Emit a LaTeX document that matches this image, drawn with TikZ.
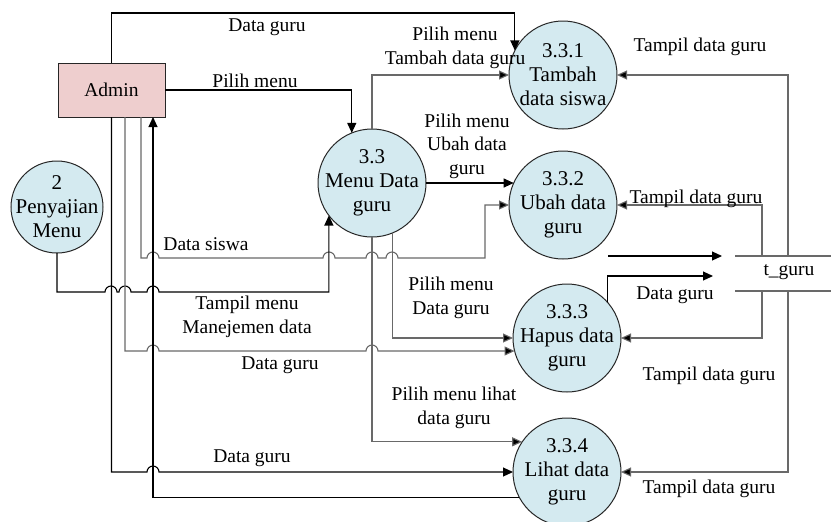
\documentclass[tikz,border=0pt]{standalone}
\usepackage{fontspec}
\setmainfont{Liberation Serif}
\usetikzlibrary{arrows.meta}
\definecolor{procfill}{RGB}{212,234,240}
\definecolor{entfill}{RGB}{238,206,206}
\definecolor{lgray}{RGB}{105,105,105}
\begin{document}
\begin{tikzpicture}[x=0.5pt,y=-0.5pt,
  proc/.style={circle,draw=black!85,line width=0.5pt,fill=procfill,minimum size=54pt,inner sep=0pt,outer sep=0pt},
  ent/.style={rectangle,draw=black!85,line width=0.5pt,fill=entfill,minimum width=53.5pt,minimum height=27pt,inner sep=0pt,outer sep=0pt},
  ptxt/.style={font=\fontsize{10.5}{12}\selectfont,align=center,inner sep=0pt},
  lbl/.style={font=\fontsize{9.75}{11.75}\selectfont,align=center,inner sep=0pt},
  flowk/.style={draw=black,line width=0.55pt,-{Triangle[length=5pt,width=4.5pt]}},
  flowg/.style={draw=lgray,line width=0.55pt,-{Triangle[length=5pt,width=4.5pt,fill=black]}},
  storeline/.style={draw=lgray,line width=0.55pt}]
\useasboundingbox (0,0) rectangle (831,521);

% nodes
\node[ent] (admin) at (111.5,90) {};
\node[lbl] at (admin) {Admin};
\node[proc,minimum size=46pt] (c2) at (57,207) {};
\node[ptxt] at (c2) {2\\Penyajian\\Menu};
\node[proc] (c33) at (372,183) {};
\node[ptxt] at (c33) {3.3\\Menu Data\\guru};
\node[proc] (c331) at (563,75) {};
\node[ptxt] at (c331) {3.3.1\\Tambah\\data siswa};
\node[proc] (c332) at (563,205) {};
\node[ptxt] at (c332) {3.3.2\\Ubah data\\guru};
\node[proc] (c333) at (567,338) {};
\node[ptxt] at (c333) {3.3.3\\Hapus data\\guru};
\node[proc] (c334) at (567,472) {};
\node[ptxt] at (c334) {3.3.4\\Lihat data\\guru};

% data store
\node[minimum width=48pt,minimum height=17.5pt,inner sep=0pt,outer sep=0pt] (store) at (783,273.5) {};
\node[lbl] at (789,272) {t\_guru};
\draw[storeline] (store.north west) -- (store.north east);
\draw[storeline] (store.south west) -- (store.south east);
\coordinate (s2a) at (608,256);
\coordinate (s2b) at (722,256);
\coordinate (s3b) at (713,276);

% flows
\draw[flowk] (admin.north) -- (111.5,13) -| (c331.153);
\draw[flowk] (admin.east) -| (c33.112);
\draw[flowg] (c33.north) |- (c331.west);
\draw[flowk] (c33.east) -- (c33.east -| c332.156);
\draw[flowg] (admin.south -| 141,0) -- (141,258) -- (147,258)
  arc[start angle=180,end angle=360,radius=6] -- (323,258)
  arc[start angle=180,end angle=360,radius=6] -- (366,258)
  arc[start angle=180,end angle=360,radius=6] -- (386,258)
  arc[start angle=180,end angle=360,radius=6] -- (485,258) |- (c332.west);
\draw[flowk] (c2.south) |- (105,292)
  arc[start angle=180,end angle=360,radius=6] -- (119,292)
  arc[start angle=180,end angle=360,radius=6] -- (147,292)
  arc[start angle=180,end angle=360,radius=6] -| (c33.217);
\draw[flowg] (admin.south -| 125,0) |- (147,351)
  arc[start angle=180,end angle=360,radius=6] -- (366,351)
  arc[start angle=180,end angle=360,radius=6] -- (378,351 -| c333.194);
\draw[flowk] (admin.south) |- (147,472)
  arc[start angle=180,end angle=360,radius=6] -- (c334.west);
\draw[flowk] (c334.208) -| (admin.south -| 153,0);
\draw[flowg] (c33.292) |- (c333.west);
\draw[flowg] (c33.south) |- (c334.146);
\draw[flowg] (store.north -| 788,0) |- (c331.east);
\draw[flowg] (store.north -| 762,0) |- (c332.east);
\draw[flowg] (store.south -| 762,0) |- (c333.east);
\draw[flowg] (store.south -| 788,0) |- (c334.east);
\draw[flowk] (s2a) -- (s2b);
\draw[flowk] (c333.42) |- (s3b);

% labels
\node[lbl] at (267,27) {Data guru};
\node[lbl] at (255,81) {Pilih menu};
\node[lbl] at (455,48) {Pilih menu\\Tambah data guru};
\node[lbl] at (467,146) {Pilih menu\\Ubah data\\guru};
\node[lbl] at (206,244) {Data siswa};
\node[lbl] at (247,317) {Tampil menu\\Manejemen data};
\node[lbl] at (280,365) {Data guru};
\node[lbl] at (252,458) {Data guru};
\node[lbl] at (451,298) {Pilih menu\\Data guru};
\node[lbl] at (454,408) {Pilih menu lihat\\data guru};
\node[lbl] at (700,47) {Tampil data guru};
\node[lbl] at (696,199) {Tampil data guru};
\node[lbl] at (675,295) {Data guru};
\node[lbl] at (709,376) {Tampil data guru};
\node[lbl] at (709,489) {Tampil data guru};
\end{tikzpicture}
\end{document}
